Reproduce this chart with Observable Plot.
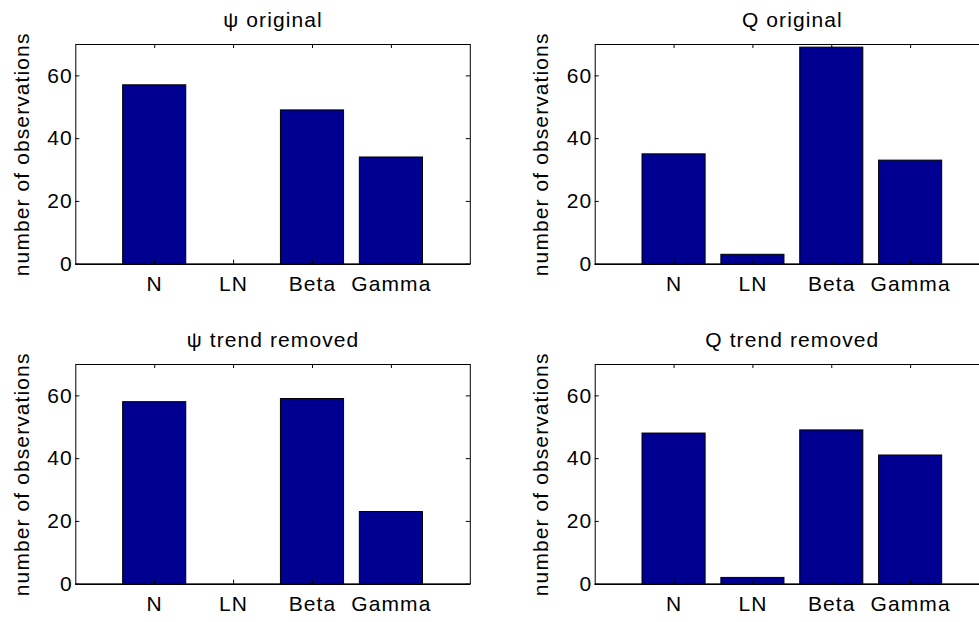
<!DOCTYPE html>
<html>
<head>
<meta charset="utf-8">
<script src="https://cdn.jsdelivr.net/npm/d3@7"></script>
<script src="https://cdn.jsdelivr.net/npm/@observablehq/plot@0.6"></script>
<style>
  html, body { margin: 0; padding: 0; background: #fff; }
  #figure { position: relative; width: 979px; height: 622px; overflow: hidden; background: #fff; }
  #figure > svg { position: absolute; }
</style>
</head>
<body>
<div id="figure"></div>
<script>
// Distribution categories fitted to each series
const categories = ["N", "LN", "Beta", "Gamma"];

// Number of observations best described by each distribution
const psiOriginal = [57, 0, 49, 34];
const qOriginal = [35, 3, 69, 33];
const psiTrendRemoved = [58, 0, 59, 23];
const qTrendRemoved = [48, 2, 49, 41];

// Y axis ticks and panel titles
const yTicks = [0, 20, 40, 60];
const titles = ["ψ original", "Q original", "ψ trend removed", "Q trend removed"];
const yLabel = "number of observations";

// Panel placement inside the figure (2 x 2 grid)
const panels = [
  {title: titles[0], values: psiOriginal,     left: 0,   top: 0,   width: 490, marginLeft: 75.3,  marginRight: 20.2},
  {title: titles[1], values: qOriginal,       left: 490, top: 0,   width: 520, marginLeft: 104.7, marginRight: 21},
  {title: titles[2], values: psiTrendRemoved, left: 0,   top: 320, width: 490, marginLeft: 75.3,  marginRight: 20.2},
  {title: titles[3], values: qTrendRemoved,   left: 490, top: 320, width: 520, marginLeft: 104.7, marginRight: 21}
];

const H = 300, MT = 44, MB = 36.3;
const barFill = "#000090";
const figure = document.getElementById("figure");

for (const p of panels) {
  const rows = categories.map((c, i) => ({category: c, count: p.values[i]}));
  const plotW = p.width - p.marginLeft - p.marginRight;
  const plotH = H - MT - MB;
  const tick = 4;

  const svg = Plot.plot({
    width: p.width,
    height: H,
    marginLeft: p.marginLeft,
    marginRight: p.marginRight,
    marginTop: MT,
    marginBottom: MB,
    style: {
      fontFamily: "'Liberation Sans', Arial, sans-serif",
      fontSize: "21px",
      letterSpacing: "1.1px",
      color: "black",
      background: "transparent",
      overflow: "visible"
    },
    x: {type: "band", domain: categories, paddingInner: 0.2, paddingOuter: 0.6, align: 0.5, round: false},
    y: {domain: [0, 70]},
    marks: [
      Plot.barY(rows, {x: "category", y: "count", fill: barFill, stroke: "black", strokeWidth: 1}),
      Plot.frame({stroke: "black", strokeWidth: 1}),
      Plot.ruleY([0], {stroke: "black", strokeWidth: 1.6}),
      // inward-pointing ticks on all four sides
      Plot.tickX(categories, {x: (d) => d, insetTop: plotH - tick, stroke: "black"}),
      Plot.tickX(categories, {x: (d) => d, insetBottom: plotH - tick, stroke: "black"}),
      Plot.tickY(yTicks, {y: (d) => d, insetRight: plotW - tick, stroke: "black"}),
      Plot.tickY(yTicks, {y: (d) => d, insetLeft: plotW - tick, stroke: "black"}),
      Plot.axisX({tickSize: 0, tickPadding: 12, label: null}),
      Plot.axisY({ticks: yTicks, tickSize: 0, tickPadding: 3, label: null}),
      // panel title
      Plot.text([p.title], {text: (d) => d, frameAnchor: "top", dy: -18, lineAnchor: "bottom", fill: "black"}),
      // y axis title
      Plot.text([yLabel], {text: (d) => d, frameAnchor: "left", textAnchor: "middle", rotate: -90, dx: -47, lineAnchor: "bottom", fill: "black"})
    ]
  });
  svg.style.left = p.left + "px";
  svg.style.top = p.top + "px";
  figure.appendChild(svg);
}
</script>
</body>
</html>
